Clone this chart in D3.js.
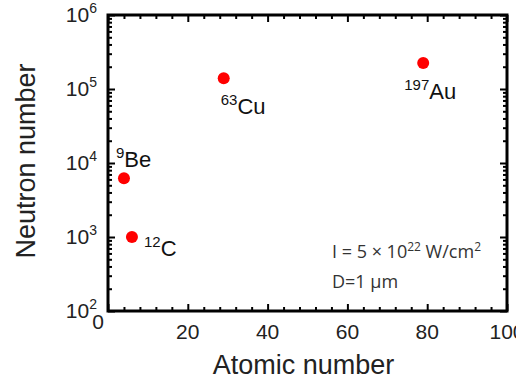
<!DOCTYPE html>
<html lang="en">
<head>
  <meta charset="UTF-8">
  <title>Neutron number vs atomic number</title>
  <script src="https://cdn.jsdelivr.net/npm/d3@7"></script>
  <style>
    body { margin: 0; background: #fff; }
  </style>
</head>
<body>
  <div id="chart"></div>
  <script>
    // data
    const isotopes = ["9Be", "12C", "63Cu", "197Au"];
    const massNums = ["9", "12", "63", "197"];
    const symbols = ["Be", "C", "Cu", "Au"];
    const atomicNumber = [4, 6, 29, 79];
    const neutrons = [6200, 1000, 140000, 225000];
    const xTicks = [0, 20, 40, 60, 80, 100];
    const yExponents = [2, 3, 4, 5, 6];

    const W = 516, H = 379;
    const margin = {top: 15, right: 9, bottom: 68, left: 108};
    const width = W - margin.left - margin.right;
    const height = H - margin.top - margin.bottom;
    const font = "'Liberation Sans', Arial, sans-serif";

    const svg = d3.select("#chart").append("svg")
      .attr("width", W).attr("height", H)
      .style("font-family", font);

    const g = svg.append("g")
      .attr("transform", `translate(${margin.left},${margin.top})`);

    const x = d3.scaleLinear().domain([0, 100]).range([0, width]);
    const y = d3.scaleLog().domain([1e2, 1e6]).range([height, 0]);

    // minor ticks
    const xMinor = d3.range(0, 101, 4).filter(v => v % 20 !== 0);
    const yMinor = [];
    for (let e = 2; e < 6; e++) for (let m = 2; m <= 9; m++) yMinor.push(m * Math.pow(10, e));

    function styleAxis(sel) {
      sel.select(".domain").remove();
      sel.selectAll("line").attr("stroke", "#000").attr("stroke-width", 2);
    }

    // bottom
    g.append("g").attr("transform", `translate(0,${height})`)
      .call(d3.axisBottom(x).tickValues(xTicks).tickSize(-7).tickFormat(""))
      .call(styleAxis);
    g.append("g").attr("transform", `translate(0,${height})`)
      .call(d3.axisBottom(x).tickValues(xMinor).tickSize(-4).tickFormat(""))
      .call(styleAxis);
    // top
    g.append("g")
      .call(d3.axisTop(x).tickValues(xTicks).tickSize(-7).tickFormat(""))
      .call(styleAxis);
    g.append("g")
      .call(d3.axisTop(x).tickValues(xMinor).tickSize(-4).tickFormat(""))
      .call(styleAxis);
    // left
    g.append("g")
      .call(d3.axisLeft(y).tickValues(yExponents.map(e => Math.pow(10, e))).tickSize(-7).tickFormat(""))
      .call(styleAxis);
    g.append("g")
      .call(d3.axisLeft(y).tickValues(yMinor).tickSize(-4).tickFormat(""))
      .call(styleAxis);
    // right
    g.append("g").attr("transform", `translate(${width},0)`)
      .call(d3.axisRight(y).tickValues(yExponents.map(e => Math.pow(10, e))).tickSize(-7).tickFormat(""))
      .call(styleAxis);
    g.append("g").attr("transform", `translate(${width},0)`)
      .call(d3.axisRight(y).tickValues(yMinor).tickSize(-4).tickFormat(""))
      .call(styleAxis);

    // frame
    g.append("rect")
      .attr("width", width).attr("height", height)
      .attr("fill", "none").attr("stroke", "#000").attr("stroke-width", 3);

    // x tick labels
    g.selectAll(".xlab").data(xTicks).join("text")
      .attr("class", "xlab")
      .attr("x", d => d === 0 ? x(d) - 10 : x(d))
      .attr("y", d => d === 0 ? height + 18 : height + 28)
      .attr("text-anchor", "middle")
      .attr("font-size", 21)
      .attr("fill", "#222")
      .text(d => d);

    // y tick labels
    const yl = g.selectAll(".ylab").data(yExponents).join("text")
      .attr("class", "ylab")
      .attr("x", -11)
      .attr("y", d => y(Math.pow(10, d)) + 7)
      .attr("text-anchor", "end")
      .attr("font-size", 21)
      .attr("fill", "#222");
    yl.append("tspan").text("10");
    yl.append("tspan").attr("dy", -9).attr("font-size", 14).text(d => d);

    // points
    g.selectAll(".pt").data(atomicNumber).join("circle")
      .attr("class", "pt")
      .attr("cx", d => x(d))
      .attr("cy", (d, i) => y(neutrons[i]))
      .attr("r", 6)
      .attr("fill", "#f00");

    // point labels, offsets relative to each point
    const labelOffset = [[-8, -11], [12, 19], [-3, 36], [-19, 36]];
    const pl = g.selectAll(".plab").data(isotopes).join("text")
      .attr("class", "plab")
      .attr("x", (d, i) => x(atomicNumber[i]) + labelOffset[i][0])
      .attr("y", (d, i) => y(neutrons[i]) + labelOffset[i][1])
      .attr("font-size", 22)
      .attr("fill", "#111");
    pl.append("tspan").attr("font-size", 15).attr("dy", -9).text((d, i) => massNums[i]);
    pl.append("tspan").attr("dy", 9).text((d, i) => symbols[i]);

    // annotation
    const ann = g.append("g")
      .attr("font-family", "'Open Sans', 'Noto Sans', sans-serif")
      .attr("font-size", 18)
      .attr("fill", "#333");
    const a1 = ann.append("text").attr("x", 224).attr("y", 243);
    a1.append("tspan").text("I = 5 \u00d7 10");
    a1.append("tspan").attr("dy", -7).attr("font-size", 12).text("22");
    a1.append("tspan").attr("dy", 7).text(" W/cm");
    a1.append("tspan").attr("dy", -7).attr("font-size", 12).text("2");
    ann.append("text").attr("x", 224).attr("y", 273).text("D=1 \u03bcm");

    // axis titles
    svg.append("text")
      .attr("x", margin.left + width / 2 - 4)
      .attr("y", H - 5)
      .attr("text-anchor", "middle")
      .attr("font-size", 27)
      .attr("fill", "#222")
      .text("Atomic number");
    svg.append("text")
      .attr("transform", `translate(35,161) rotate(-90)`)
      .attr("text-anchor", "middle")
      .attr("font-size", 27)
      .attr("fill", "#222")
      .text("Neutron number");
  </script>
</body>
</html>
